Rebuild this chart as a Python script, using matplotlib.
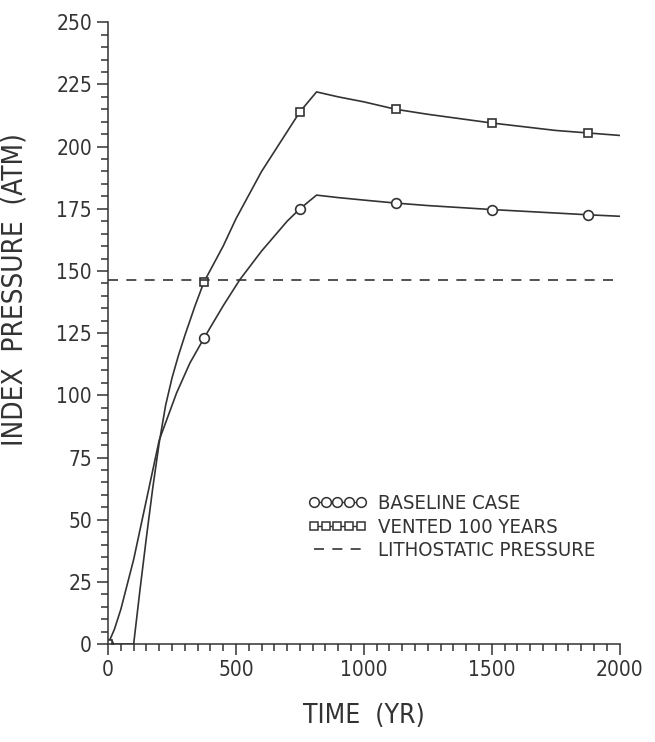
import matplotlib
matplotlib.use("Agg")
import matplotlib.pyplot as plt
from matplotlib.ticker import MultipleLocator

plt.rcParams['font.family'] = ['DejaVu Sans']
plt.rcParams['font.stretch'] = 'condensed'

# baseline case (circles)
base_t = [0, 25, 50, 100, 150, 200, 268, 320, 375, 450, 515, 600, 700, 750, 815,
          900, 1000, 1125, 1250, 1500, 1750, 1875, 2000]
base_p = [0, 6, 14, 34, 58, 82, 101, 113, 123, 136, 146.5, 158, 170, 175, 180.5,
          179.5, 178.5, 177.3, 176.3, 174.7, 173.3, 172.6, 172]

# vented 100 years (squares)
vent_t = [0, 100, 125, 150, 175, 200, 225, 250, 275, 300, 340, 375, 450, 500, 600,
          700, 750, 815, 900, 1000, 1125, 1250, 1500, 1750, 1875, 2000]
vent_p = [0, 0, 22, 43, 63, 81, 96, 107, 116, 124, 136, 145.6, 160, 171, 190,
          206, 214, 222, 220, 218, 215, 213, 209.5, 206.5, 205.5, 204.5]

# marker positions
mark_t = [0, 375, 750, 1125, 1500, 1875]
base_mark = [0, 123, 175, 177.3, 174.7, 172.6]
vent_mark = [0, 145.6, 214, 215, 209.5, 205.5]

litho = 146.5

col = '#333333'
fig = plt.figure(figsize=(6.55, 7.42), dpi=100)
ax = fig.add_axes([0.165, 0.132, 0.781, 0.838])

ax.plot(base_t, base_p, color=col, lw=1.2)
ax.plot(mark_t, base_mark, 'o', mfc='white', mec=col, mew=1.2, ms=7)
ax.plot(vent_t, vent_p, color=col, lw=1.2)
ax.plot(mark_t, vent_mark, 's', mfc='white', mec=col, mew=1.2, ms=6)
ax.axhline(litho, color=col, lw=1.2, ls=(0, (6, 5)))

# legend proxies
h1, = ax.plot([], [], '-o', color=col, mfc='white', mec=col, mew=1.1, ms=7, lw=1.0)
h2, = ax.plot([], [], '-s', color=col, mfc='white', mec=col, mew=1.1, ms=6, lw=1.0)
h3, = ax.plot([], [], color=col, lw=1.2, ls=(0, (6, 5)))
leg = ax.legend([h1, h2, h3], ['BASELINE CASE', 'VENTED 100 YEARS', 'LITHOSTATIC PRESSURE'],
                loc='upper left', bbox_to_anchor=(0.374, 0.254), frameon=False,
                numpoints=5, handlelength=2.95, handletextpad=0.55, labelspacing=0.22,
                fontsize=14.6, borderaxespad=0)
for t in leg.get_texts():
    t.set_color(col)

ax.set_xlim(0, 2000)
ax.set_ylim(0, 250)
ax.xaxis.set_major_locator(MultipleLocator(500))
ax.xaxis.set_minor_locator(MultipleLocator(50))
ax.yaxis.set_major_locator(MultipleLocator(25))
ax.yaxis.set_minor_locator(MultipleLocator(5))
ax.tick_params(which='major', direction='out', length=8, width=1.1, color=col,
               labelsize=15, labelcolor=col)
ax.tick_params(which='minor', direction='out', length=5, width=1.1, color=col)
for s in ['top', 'right']:
    ax.spines[s].set_visible(False)
for s in ['left', 'bottom']:
    ax.spines[s].set_color(col)
    ax.spines[s].set_linewidth(1.1)

ax.set_xlabel('TIME  (YR)', fontsize=19, color=col)
ax.xaxis.set_label_coords(0.5, -0.095)
ax.set_ylabel('INDEX  PRESSURE  (ATM)', fontsize=20, color=col)
ax.yaxis.set_label_coords(-0.155, 0.57)

fig.savefig('out.png', dpi=100)
